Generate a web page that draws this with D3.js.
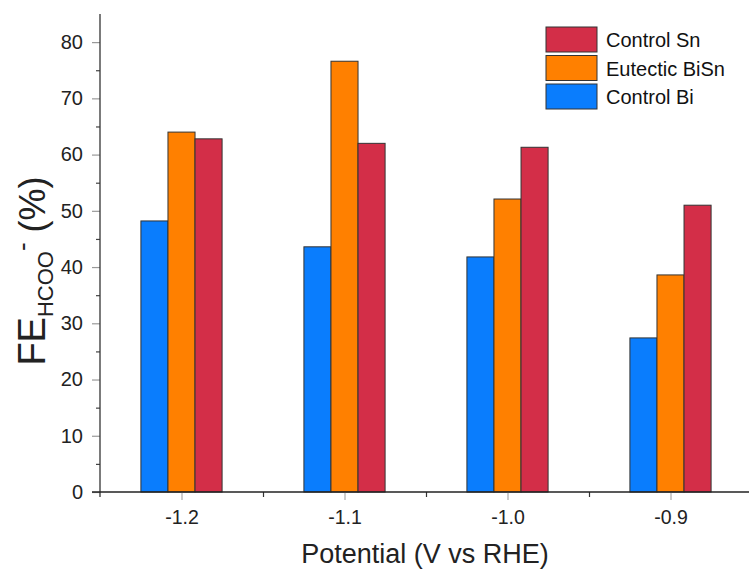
<!DOCTYPE html>
<html>
<head>
<meta charset="utf-8">
<script src="https://cdn.jsdelivr.net/npm/d3@7"></script>
<style>
  html, body { margin: 0; padding: 0; background: #fff; }
  svg { display: block; font-family: "Liberation Sans", Arial, sans-serif; }
</style>
</head>
<body>
<svg id="chart" width="749" height="572"></svg>
<script>
// Potentials (V vs RHE) and formate Faradaic efficiencies (%)
const potentials = [-1.2, -1.1, -1.0, -0.9];
const potentialLabels = ["-1.2", "-1.1", "-1.0", "-0.9"];
const controlBi = [48.2, 43.6, 41.8, 27.4];
const eutecticBiSn = [64.0, 76.6, 52.1, 38.6];
const controlSn = [62.8, 62.0, 61.3, 51.0];
const seriesNames = ["Control Bi", "Eutectic BiSn", "Control Sn"];
const seriesColors = ["#0a7dfd", "#ff8000", "#d32e48"];
const yTicks = [0, 10, 20, 30, 40, 50, 60, 70, 80];

const series = [controlBi, eutecticBiSn, controlSn];

const svg = d3.select("#chart");
const plotLeft = 100, plotRight = 752, plotTop = 14, plotBottom = 492;

const x = d3.scaleLinear().domain([-1.25, -0.85]).range([plotLeft, plotRight]);
const y = d3.scaleLinear().domain([0, 85]).range([plotBottom, plotTop]);

const barStep = 0.0166;            // bar width in x-units
const offsets = [-1, 0, 1];

// Bars
series.forEach((vals, si) => {
  svg.append("g").selectAll("rect")
    .data(vals.map((v, i) => ({ p: potentials[i], v })))
    .join("rect")
    .attr("x", d => x(d.p + (offsets[si] - 0.5) * barStep))
    .attr("width", d => x(d.p + (offsets[si] + 0.5) * barStep) - x(d.p + (offsets[si] - 0.5) * barStep))
    .attr("y", d => y(d.v))
    .attr("height", d => y(0) - y(d.v))
    .attr("fill", seriesColors[si])
    .attr("stroke", "#333")
    .attr("stroke-width", 1);
});

// Y axis: major ticks (labels) and minor ticks
const yAxis = svg.append("g").attr("transform", `translate(${plotLeft},0)`);
yAxis.call(d3.axisLeft(y).tickValues(yTicks).tickSize(8).tickPadding(9).tickFormat(d3.format("d")))
  .call(g => g.select(".domain").remove())
  .call(g => g.selectAll(".tick line").attr("stroke", "#999").attr("stroke-width", 1.2))
  .call(g => g.selectAll(".tick text").attr("font-size", 20).attr("fill", "#222")
    .attr("font-family", "Liberation Sans, Arial, sans-serif"));
const yMinor = svg.append("g").attr("transform", `translate(${plotLeft},0)`);
yMinor.call(d3.axisLeft(y).tickValues(d3.range(5, 85, 10)).tickSize(4).tickFormat(""))
  .call(g => g.select(".domain").remove())
  .call(g => g.selectAll(".tick line").attr("stroke", "#444").attr("stroke-width", 1.2));
svg.append("line").attr("x1", plotLeft).attr("x2", plotLeft).attr("y1", plotTop).attr("y2", plotBottom + 5)
  .attr("stroke", "#333").attr("stroke-width", 1.3);

// X axis
const xAxis = svg.append("g").attr("transform", `translate(0,${plotBottom})`);
xAxis.call(d3.axisBottom(x).tickValues(potentials).tickSize(8).tickPadding(10)
    .tickFormat((d, i) => potentialLabels[i]))
  .call(g => g.select(".domain").remove())
  .call(g => g.selectAll(".tick line").attr("stroke", "#aaa").attr("stroke-width", 1.2))
  .call(g => g.selectAll(".tick text").attr("font-size", 19.5).attr("fill", "#222")
    .attr("font-family", "Liberation Sans, Arial, sans-serif"));
const xMinor = svg.append("g").attr("transform", `translate(0,${plotBottom})`);
xMinor.call(d3.axisBottom(x).tickValues([-1.15, -1.05, -0.95]).tickSize(5).tickFormat(""))
  .call(g => g.select(".domain").remove())
  .call(g => g.selectAll(".tick line").attr("stroke", "#333").attr("stroke-width", 1.2));
svg.append("line").attr("x1", plotLeft - 8).attr("x2", 749).attr("y1", plotBottom).attr("y2", plotBottom)
  .attr("stroke", "#222").attr("stroke-width", 1.3);

// Axis titles
svg.append("text")
  .attr("x", 425).attr("y", 563)
  .attr("text-anchor", "middle").attr("font-size", 27).attr("fill", "#222")
  .text("Potential (V vs RHE)");

const yTitle = svg.append("text")
  .attr("transform", "translate(45,271) rotate(-90)")
  .attr("text-anchor", "middle").attr("fill", "#222").attr("font-size", 38);
yTitle.append("tspan").text("FE");
yTitle.append("tspan").attr("font-size", 22).attr("dy", 8).text("HCOO");
yTitle.append("tspan").attr("font-size", 26).attr("dy", -22).text("-");
yTitle.append("tspan").attr("font-size", 36).attr("dy", 14).text(" (%)");

// Legend (top to bottom: Control Sn, Eutectic BiSn, Control Bi)
const legendOrder = [2, 1, 0];
const legend = svg.append("g").attr("transform", "translate(546,27)");
legendOrder.forEach((si, k) => {
  const row = legend.append("g").attr("transform", `translate(0,${k * 28.5})`);
  row.append("rect").attr("width", 51).attr("height", 25)
    .attr("fill", seriesColors[si]).attr("stroke", "#333").attr("stroke-width", 1);
  row.append("text").attr("x", 60).attr("y", 20)
    .attr("font-size", 20).attr("fill", "#111").text(seriesNames[si]);
});
</script>
</body>
</html>
